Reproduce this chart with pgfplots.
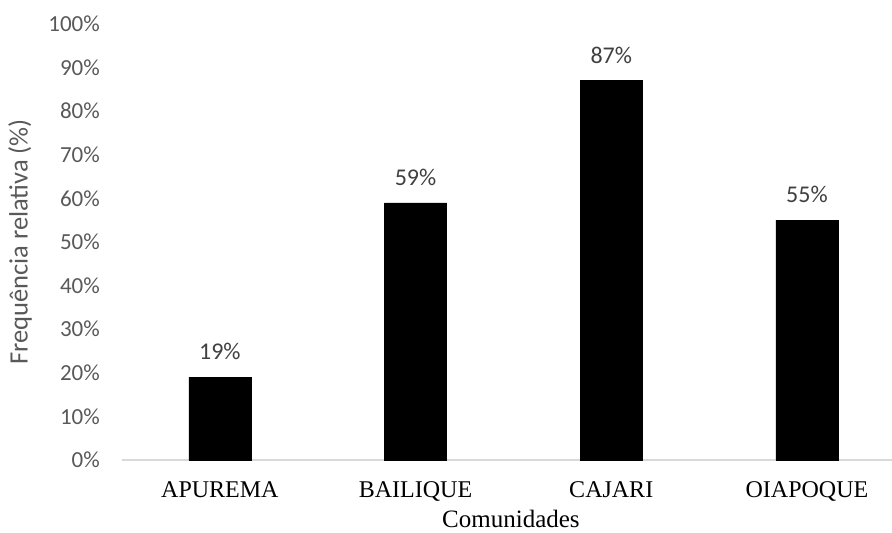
\documentclass[border=0pt]{standalone}
\usepackage{pgfplots}
\pgfplotsset{compat=1.18}
\usepackage{fontspec}
\setmainfont{Liberation Serif}
\newfontfamily\calibri{Carlito}
\definecolor{axisgray}{HTML}{D9D9D9}
\definecolor{ticktext}{HTML}{595959}
\definecolor{labeltext}{HTML}{404040}

\begin{document}
\begin{tikzpicture}
\begin{axis}[
  at={(0,0)}, anchor=south west,
  scale only axis,
  x=195.7pt, y=4.36pt,
  xmin=-0.5, xmax=3.434,
  ymin=0, ymax=100,
  axis x line*=bottom,
  axis y line*=left,
  y axis line style={draw=none},
  x axis line style={draw=axisgray, line width=1.2pt},
  xtick={0,1,2,3},
  xticklabels={APUREMA,BAILIQUE,CAJARI,OIAPOQUE},
  ytick={0,10,...,100},
  major tick length=0pt,
  /pgf/number format/assume math mode=true,
  yticklabel={\pgfmathprintnumber{\tick}\%},
  yticklabel style={font=\calibri\fontsize{23}{27}\selectfont, text=ticktext, inner sep=0pt, xshift=-22pt},
  xticklabel style={font=\fontsize{24}{28}\selectfont, text=black, inner sep=0pt, yshift=-21pt},
  xlabel={Comunidades},
  xlabel style={at={(rel axis cs:0.5,0)}, anchor=center, inner sep=0pt, xshift=4pt, yshift=-59pt, font=\fontsize{25}{30}\selectfont},
  ylabel={Frequência relativa (\%)},
  ylabel style={at={(rel axis cs:0,0.5)}, anchor=center, yshift=102pt, font=\calibri\fontsize{26.5}{31}\selectfont, text=ticktext},
  ybar, bar width=0.317,
  nodes near coords={\pgfmathprintnumber{\pgfplotspointmeta}\%},
  nodes near coords style={font=\calibri\fontsize{24}{28}\selectfont, text=labeltext, anchor=south, inner sep=0pt, yshift=17pt},
  clip=false,
]
\addplot[fill=black, draw=black] coordinates {(0,19) (1,59) (2,87) (3,55)};
\end{axis}
\pgfresetboundingbox
\useasboundingbox (-122pt,-73pt) rectangle (770pt,460pt);
\end{tikzpicture}
\end{document}
